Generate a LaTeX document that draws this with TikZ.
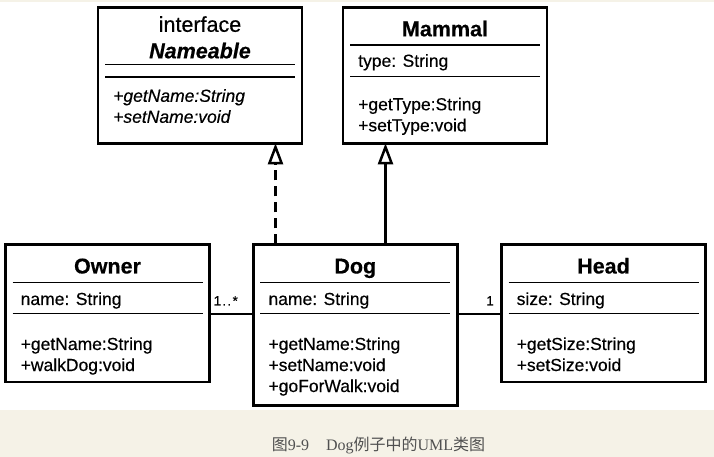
\documentclass[tikz,border=0pt]{standalone}
\usepackage{fontspec}
\setmainfont{Liberation Sans}[FakeBold=0.4]
\newfontfamily\capfont{Liberation Serif}
\newfontfamily\cjkfont{Noto Sans CJK SC}
\usetikzlibrary{arrows.meta,calc}
\definecolor{pagebg}{HTML}{F5F2E7}
\definecolor{captext}{HTML}{505050}
\tikzset{
  umlbox/.style={draw=black, line width=2.8bp, fill=white, rectangle,
    minimum width=204bp, inner sep=0pt, outer sep=0pt, anchor=north west},
  sepline/.style={line width=1.5bp},
  body/.style={font=\fontsize{17.5bp}{21bp}\selectfont, inner sep=0pt, anchor=base west},
  bodyit/.style={body, font=\fontsize{17.5bp}{21bp}\selectfont\itshape},
  ctitle/.style={font=\fontsize{21.5bp}{25bp}\selectfont\bfseries, inner sep=0pt, anchor=base},
  mult/.style={font=\fontsize{13.5bp}{15bp}\selectfont, inner sep=0pt},
  conn/.style={line width=2.5bp},
  inherit/.style={conn, -{Triangle[open, length=21bp, width=15bp, line width=2.5bp]}},
  realize/.style={inherit, dash pattern=on 10bp off 6bp},
}
\begin{document}
\begin{tikzpicture}[x=1bp, y=-1bp]
\useasboundingbox (0,0) rectangle (714,457);
\fill[pagebg] (0,0) rectangle (714,457);
\fill[white] (0,2) rectangle (714,410);

% ---------- Nameable ----------
\node[umlbox, minimum height=136bp] (nameable) at (98,7.3) {};
\node[ctitle, font=\fontsize{21.5bp}{25bp}\selectfont] (nameableSt) at ($(nameable.north)+(0,24.5)$) {interface};
\node[ctitle, font=\fontsize{21.5bp}{25bp}\selectfont\bfseries\itshape] (nameableT) at ($(nameable.north)+(0,51)$) {Nameable};
\draw[sepline] ($(nameable.north west)+(7,57)$) -- ($(nameable.north east)+(-7,57)$);
\draw[sepline] ($(nameable.north west)+(7,69.5)$) -- ($(nameable.north east)+(-7,69.5)$);
\node[bodyit] (nameableM1) at ($(nameable.north west)+(15,94.5)$) {+getName:String};
\node[bodyit] (nameableM2) at ($(nameable.north west)+(15,115.5)$) {+setName:void};

% ---------- Mammal ----------
\node[umlbox, minimum height=136bp] (mammal) at (343,7.3) {};
\node[ctitle] (mammalT) at ($(mammal.north)+(0,29)$) {Mammal};
\draw[sepline] ($(mammal.north west)+(7,37.5)$) -- ($(mammal.north east)+(-7,37.5)$);
\node[body] (mammalA) at ($(mammal.north west)+(15,59.5)$) {type: String};
\draw[sepline] ($(mammal.north west)+(7,69)$) -- ($(mammal.north east)+(-7,69)$);
\node[body] (mammalM1) at ($(mammal.north west)+(15,103)$) {+getType:String};
\node[body] (mammalM2) at ($(mammal.north west)+(15,124)$) {+setType:void};

% ---------- Owner ----------
\node[umlbox, minimum height=137.5bp] (owner) at (5.5,244.5) {};
\node[ctitle] (ownerT) at ($(owner.north)+(0,29)$) {Owner};
\draw[sepline] ($(owner.north west)+(7,38)$) -- ($(owner.north east)+(-7,38)$);
\node[body] (ownerA) at ($(owner.north west)+(15,60.5)$) {name: String};
\draw[sepline] ($(owner.north west)+(7,69)$) -- ($(owner.north east)+(-7,69)$);
\node[body] (ownerM1) at ($(owner.north west)+(15,105.5)$) {+getName:String};
\node[body] (ownerM2) at ($(owner.north west)+(15,126.5)$) {+walkDog:void};

% ---------- Dog ----------
\node[umlbox, minimum height=161bp] (dog) at (253.3,244.5) {};
\node[ctitle] (dogT) at ($(dog.north)+(0,29)$) {Dog};
\draw[sepline] ($(dog.north west)+(7,38)$) -- ($(dog.north east)+(-7,38)$);
\node[body] (dogA) at ($(dog.north west)+(15,60.5)$) {name: String};
\draw[sepline] ($(dog.north west)+(7,69)$) -- ($(dog.north east)+(-7,69)$);
\node[body] (dogM1) at ($(dog.north west)+(15,105.5)$) {+getName:String};
\node[body] (dogM2) at ($(dog.north west)+(15,126.5)$) {+setName:void};
\node[body] (dogM3) at ($(dog.north west)+(15,147.5)$) {+goForWalk:void};

% ---------- Head ----------
\node[umlbox, minimum height=137.5bp] (head) at (501.5,244.5) {};
\node[ctitle] (headT) at ($(head.north)+(0,29)$) {Head};
\draw[sepline] ($(head.north west)+(7,38)$) -- ($(head.north east)+(-7,38)$);
\node[body] (headA) at ($(head.north west)+(15,60.5)$) {size: String};
\draw[sepline] ($(head.north west)+(7,69)$) -- ($(head.north east)+(-7,69)$);
\node[body] (headM1) at ($(head.north west)+(15,105.5)$) {+getSize:String};
\node[body] (headM2) at ($(head.north west)+(15,126.5)$) {+setSize:void};

% ---------- connectors ----------
\coordinate (realX) at (275.5,0);
\coordinate (inhX) at (385.5,0);
\coordinate (assocY) at (0,314);
\draw[realize] (dog.north -| realX) -- (nameable.south -| realX);
\draw[inherit] (dog.north -| inhX) -- (mammal.south -| inhX);
\draw[conn] (owner.east |- assocY) -- (dog.west |- assocY);
\draw[conn] (dog.east |- assocY) -- (head.west |- assocY);
\node[mult, anchor=base west] (multOwner) at (213.5,305.5) {1\kern1.2bp.\kern1.2bp.\kern1.5bp*};
\node[mult, anchor=base east] (multHead) at (494,305.5) {1};

% ---------- caption ----------
\node[anchor=base, inner sep=0pt, text=captext, font=\fontsize{16bp}{18bp}\selectfont] (caption) at (378.5,450)
  {\cjkfont 图\capfont 9-9\hspace{17bp}Dog\cjkfont 例子中的\capfont UML\cjkfont 类图};
\end{tikzpicture}
\end{document}
